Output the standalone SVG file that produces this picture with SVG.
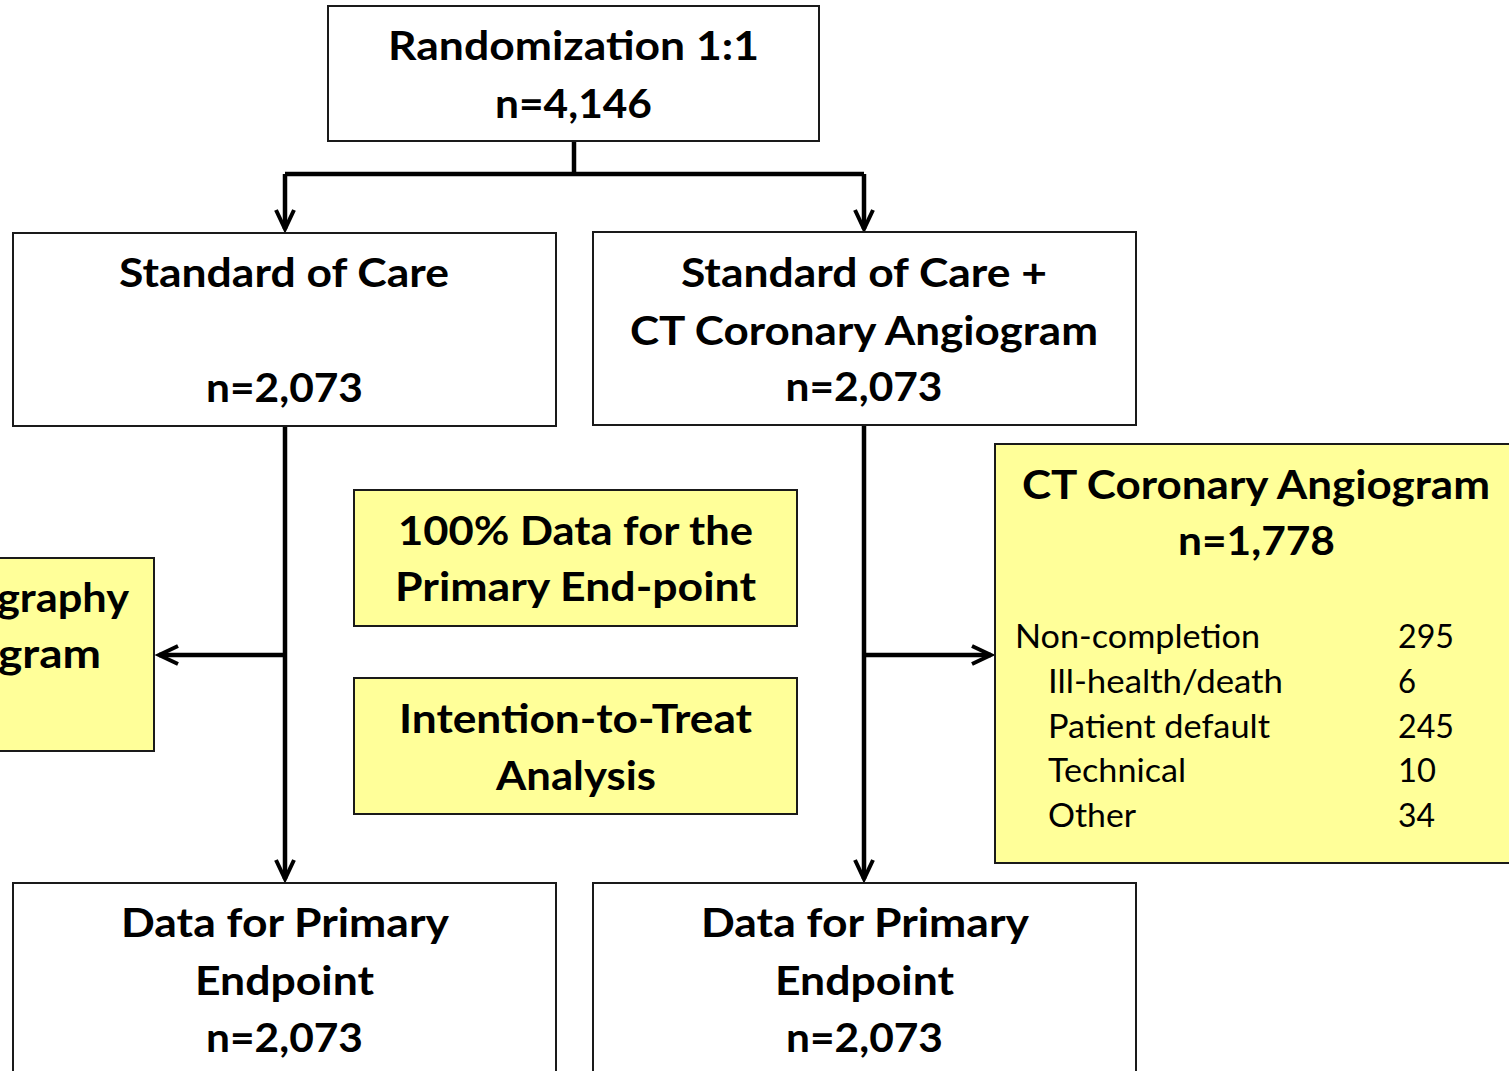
<svg xmlns="http://www.w3.org/2000/svg" width="1509" height="1071" viewBox="0 0 1509 1071">
<style>
.box{fill:#fff;stroke:#1a1a1a;stroke-width:2}
.ybox{fill:#ffff99;stroke:#1a1a1a;stroke-width:2}
.h{font-family:Lato,"Open Sans","Liberation Sans",sans-serif;font-weight:700;font-size:40px;fill:#000;text-anchor:middle}
.r{font-family:Lato,"Open Sans","Liberation Sans",sans-serif;font-weight:400;font-size:32px;fill:#000}
.c{fill:none;stroke:#000;stroke-width:4.5}
</style>
<defs>
<marker id="arr" markerUnits="userSpaceOnUse" viewBox="-24 -14 28 28" refX="0" refY="0" markerWidth="28" markerHeight="28" orient="auto">
<path d="M-19,-9 L0,0 L-19,9" fill="none" stroke="#000" stroke-width="4" stroke-linejoin="miter"/>
</marker>
</defs>
<g id="connectors">
<path class="c" d="M574,141 V174"/>
<path class="c" d="M285,174 H864" />
<path class="c" d="M285,174 V229" marker-end="url(#arr)"/>
<path class="c" d="M864,174 V229" marker-end="url(#arr)"/>
<path class="c" d="M285,426 V879" marker-end="url(#arr)"/>
<path class="c" d="M864,425 V879" marker-end="url(#arr)"/>
<path class="c" d="M285,655 H159" marker-end="url(#arr)"/>
<path class="c" d="M864,655 H991" marker-end="url(#arr)"/>
</g>
<g id="randomization">
<rect class="box" x="328" y="6" width="491" height="135"/>
<text class="h" x="573.5" y="60" textLength="371" lengthAdjust="spacingAndGlyphs">Randomization 1:1</text>
<text class="h" x="573.5" y="118" textLength="157" lengthAdjust="spacingAndGlyphs">n=4,146</text>
</g>
<g id="soc">
<rect class="box" x="13" y="233" width="543" height="193"/>
<text class="h" x="284" y="287" textLength="330" lengthAdjust="spacingAndGlyphs">Standard of Care</text>
<text class="h" x="284.5" y="402" textLength="157" lengthAdjust="spacingAndGlyphs">n=2,073</text>
</g>
<g id="soc-ct">
<rect class="box" x="593" y="232" width="543" height="193"/>
<text class="h" x="864" y="287" textLength="366" lengthAdjust="spacingAndGlyphs">Standard of Care +</text>
<text class="h" x="864" y="345" textLength="468" lengthAdjust="spacingAndGlyphs">CT Coronary Angiogram</text>
<text class="h" x="864" y="401" textLength="157" lengthAdjust="spacingAndGlyphs">n=2,073</text>
</g>
<g id="left-yellow">
<rect class="ybox" x="-10" y="558" width="164" height="193"/>
<text class="h" x="-3" y="612" style="text-anchor:start" textLength="132" lengthAdjust="spacingAndGlyphs">graphy</text>
<text class="h" x="-2" y="668" style="text-anchor:start" textLength="103" lengthAdjust="spacingAndGlyphs">gram</text>
</g>
<g id="data100">
<rect class="ybox" x="354" y="490" width="443" height="136"/>
<text class="h" x="575.5" y="545" textLength="355" lengthAdjust="spacingAndGlyphs">100% Data for the</text>
<text class="h" x="575.5" y="601" textLength="361" lengthAdjust="spacingAndGlyphs">Primary End-point</text>
</g>
<g id="itt">
<rect class="ybox" x="354" y="678" width="443" height="136"/>
<text class="h" x="575.5" y="733" textLength="353" lengthAdjust="spacingAndGlyphs">Intention-to-Treat</text>
<text class="h" x="576" y="790" textLength="160" lengthAdjust="spacingAndGlyphs">Analysis</text>
</g>
<g id="ct-angiogram">
<rect class="ybox" x="995" y="444" width="530" height="419"/>
<text class="h" x="1256" y="499" textLength="468" lengthAdjust="spacingAndGlyphs">CT Coronary Angiogram</text>
<text class="h" x="1256.5" y="555" textLength="157" lengthAdjust="spacingAndGlyphs">n=1,778</text>
<text class="r" x="1015" y="648" textLength="245" lengthAdjust="spacingAndGlyphs">Non-completion</text>
<text class="r" x="1398" y="648" textLength="56" lengthAdjust="spacingAndGlyphs">295</text>
<text class="r" x="1048" y="693" textLength="235" lengthAdjust="spacingAndGlyphs">Ill-health/death</text>
<text class="r" x="1398" y="693" textLength="18" lengthAdjust="spacingAndGlyphs">6</text>
<text class="r" x="1048" y="738" textLength="222" lengthAdjust="spacingAndGlyphs">Patient default</text>
<text class="r" x="1398" y="738" textLength="56" lengthAdjust="spacingAndGlyphs">245</text>
<text class="r" x="1048" y="782" textLength="138" lengthAdjust="spacingAndGlyphs">Technical</text>
<text class="r" x="1398" y="782" textLength="38" lengthAdjust="spacingAndGlyphs">10</text>
<text class="r" x="1048" y="827" textLength="88" lengthAdjust="spacingAndGlyphs">Other</text>
<text class="r" x="1398" y="827" textLength="37" lengthAdjust="spacingAndGlyphs">34</text>
</g>
<g id="data-soc">
<rect class="box" x="13" y="883" width="543" height="200"/>
<text class="h" x="285" y="937" textLength="328" lengthAdjust="spacingAndGlyphs">Data for Primary</text>
<text class="h" x="284.5" y="995" textLength="179" lengthAdjust="spacingAndGlyphs">Endpoint</text>
<text class="h" x="284.5" y="1052" textLength="157" lengthAdjust="spacingAndGlyphs">n=2,073</text>
</g>
<g id="data-ct">
<rect class="box" x="593" y="883" width="543" height="200"/>
<text class="h" x="865" y="937" textLength="328" lengthAdjust="spacingAndGlyphs">Data for Primary</text>
<text class="h" x="864.5" y="995" textLength="179" lengthAdjust="spacingAndGlyphs">Endpoint</text>
<text class="h" x="864.5" y="1052" textLength="157" lengthAdjust="spacingAndGlyphs">n=2,073</text>
</g>
</svg>
